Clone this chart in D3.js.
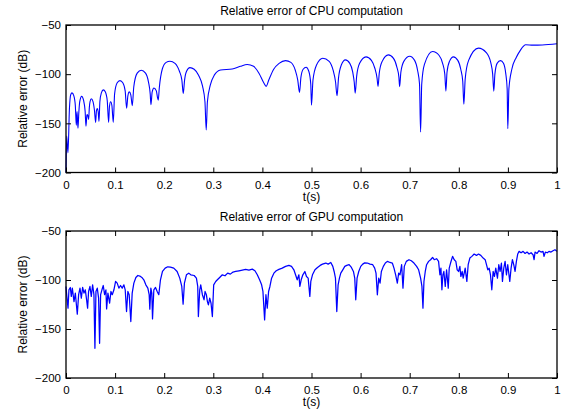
<!DOCTYPE html>
<html>
<head>
<meta charset="utf-8">
<script src="https://cdn.jsdelivr.net/npm/d3@7"></script>
<style>
body { margin: 0; background: #fff; }
text { font-family: "Liberation Sans", Arial, sans-serif; }
</style>
</head>
<body>
<div id="chart"></div>
<script>
// tick values and labels
var xTicks = [0, 0.1, 0.2, 0.3, 0.4, 0.5, 0.6, 0.7, 0.8, 0.9, 1];
var xTickLabels = ["0", "0.1", "0.2", "0.3", "0.4", "0.5", "0.6", "0.7", "0.8", "0.9", "1"];
var yTicks = [-200, -150, -100, -50];
var yTickLabels = ["\u2212200", "\u2212150", "\u2212100", "\u221250"];

var titles = ["Relative error of CPU computation", "Relative error of GPU computation"];
var xLabel = "t(s)";
var yLabel = "Relative error (dB)";

// CPU error curve [t, dB]
var cpuError = [
[0, -200], [0.0014, -163], [0.004, -180], [0.007, -135], [0.0095, -121], [0.0122, -119], [0.016, -122],
[0.019, -132], [0.021, -152], [0.0225, -138], [0.0244, -155], [0.026, -140], [0.028, -128], [0.0319, -122.6],
[0.036, -127], [0.039, -138], [0.0407, -153], [0.0425, -142], [0.0434, -141], [0.0448, -143], [0.0461, -146],
[0.0475, -134], [0.049, -128], [0.0516, -125], [0.055, -128], [0.058, -137], [0.0604, -149], [0.062, -137],
[0.0638, -135], [0.0655, -138], [0.0672, -148], [0.069, -128], [0.072, -119], [0.076, -116], [0.080, -118],
[0.084, -127], [0.0868, -149], [0.0885, -133], [0.0909, -128], [0.0935, -132], [0.0963, -149], [0.099, -120],
[0.104, -109], [0.1099, -106.6], [0.116, -109], [0.1205, -117], [0.1235, -134.6], [0.126, -122], [0.1289, -118],
[0.132, -121], [0.135, -132], [0.138, -113], [0.145, -99], [0.1533, -96], [0.162, -99], [0.168, -108],
[0.1715, -120], [0.173, -131], [0.1755, -118], [0.1791, -114], [0.184, -117], [0.1865, -124], [0.1879, -126.4],
[0.190, -114], [0.196, -95], [0.204, -88], [0.2117, -86.8], [0.222, -89], [0.231, -97], [0.236, -106],
[0.2388, -119.6], [0.2415, -106], [0.2455, -97], [0.2524, -93.3], [0.261, -95], [0.270, -101], [0.278, -112],
[0.283, -128], [0.2856, -156.7], [0.288, -128], [0.294, -111], [0.302, -101], [0.3148, -95.7], [0.3385, -94.7],
[0.355, -92], [0.3691, -90.2], [0.382, -92], [0.393, -99], [0.403, -109], [0.4077, -112.4], [0.413, -106],
[0.423, -95], [0.434, -89], [0.4471, -86.2], [0.458, -88], [0.467, -96], [0.472, -106], [0.4756, -118.5],
[0.4785, -103], [0.483, -95], [0.4891, -93], [0.4945, -97], [0.4985, -110], [0.5, -131.5], [0.503, -106],
[0.51, -91], [0.523, -83.8], [0.536, -87], [0.544, -96], [0.549, -108], [0.552, -122], [0.555, -104],
[0.5605, -91], [0.569, -85.5], [0.578, -89], [0.584, -98], [0.587, -108], [0.589, -119.3], [0.592, -102],
[0.598, -89], [0.611, -82.4], [0.622, -86], [0.629, -94], [0.6335, -104], [0.6355, -112.4], [0.638, -99],
[0.644, -87], [0.6565, -80.4], [0.667, -84], [0.674, -93], [0.678, -103], [0.6795, -112.7], [0.682, -98],
[0.688, -87], [0.700, -81.8], [0.710, -86], [0.716, -96], [0.720, -110], [0.7222, -158.8], [0.7245, -110],
[0.73, -90], [0.7466, -77], [0.760, -81], [0.767, -89], [0.7715, -100], [0.7737, -117.2], [0.776, -98],
[0.781, -87], [0.789, -82.4], [0.798, -86], [0.804, -95], [0.808, -107], [0.8103, -130.5], [0.813, -105],
[0.82, -86], [0.8401, -73.5], [0.856, -78], [0.865, -88], [0.869, -100], [0.8713, -117.2], [0.8735, -100],
[0.878, -89], [0.885, -86.2], [0.891, -89], [0.8955, -99], [0.8985, -115], [0.8998, -155.4], [0.902, -115],
[0.908, -95], [0.917, -83], [0.925, -76], [0.9363, -70.1], [0.9512, -70.5], [0.97, -70.3], [1.0, -69.1]
];

// GPU error curve [t, dB]
var gpuError = [
[0, -106.6], [0.0014, -115], [0.0041, -128.8], [0.006, -110], [0.0088, -107.6], [0.0108, -116.8], [0.0129, -108.3],
[0.0163, -122], [0.019, -113.4], [0.023, -134.9], [0.0257, -115], [0.0285, -108.3], [0.0312, -118.5], [0.0339, -107.6],
[0.0366, -113.4], [0.0393, -110], [0.042, -120.2], [0.044, -128.8], [0.046, -111.7], [0.0488, -106.6], [0.0515, -116.8],
[0.0542, -104.9], [0.0569, -115], [0.0589, -169.7], [0.061, -111.7], [0.0637, -108.3], [0.0664, -118.5], [0.0684, -164.6],
[0.0705, -115], [0.0732, -110], [0.0759, -105.6], [0.0786, -115], [0.0813, -110], [0.0827, -129.5], [0.0854, -113.4],
[0.0888, -123.7], [0.0915, -111.7], [0.0942, -115], [0.0976, -110], [0.101, -101.5], [0.1043, -103.2], [0.1077, -108.3],
[0.1111, -105.6], [0.1145, -108.3], [0.1179, -104.9], [0.1206, -110], [0.1233, -132.2], [0.126, -111.7], [0.1287, -115],
[0.132, -142.4], [0.1348, -113.4], [0.1382, -103.2], [0.1423, -97.4], [0.1463, -95.4], [0.1504, -96], [0.1545, -97.4],
[0.1585, -99.8], [0.1626, -104.9], [0.1667, -108.3], [0.1694, -115], [0.1707, -129.8], [0.1728, -108.3], [0.1748, -113.4],
[0.1762, -139.7], [0.1789, -110], [0.1823, -107.6], [0.1857, -111.7], [0.189, -115], [0.1924, -99.8], [0.1965, -91.3],
[0.202, -87.9], [0.2073, -86.5], [0.2127, -86.8], [0.2195, -87.9], [0.2263, -91.3], [0.2317, -98.1], [0.2358, -106.6],
[0.2385, -124.7], [0.2412, -103.2], [0.2453, -94.7], [0.25, -93], [0.2541, -94.7], [0.261, -95.4], [0.2656, -98.1],
[0.2683, -106.6], [0.2696, -137.3], [0.2724, -110], [0.2744, -104.9], [0.2778, -115], [0.2812, -120.2], [0.2832, -111.7],
[0.2859, -115], [0.288, -122], [0.29, -125.4], [0.2927, -118.5], [0.2954, -123.7], [0.2981, -137.3], [0.3008, -104.9],
[0.3049, -101.5], [0.3083, -99.8], [0.313, -97.4], [0.3184, -94.7], [0.3238, -95.7], [0.3293, -93], [0.3347, -94],
[0.3401, -91.9], [0.3455, -91.3], [0.3523, -90.6], [0.3591, -89.9], [0.3659, -89.2], [0.3726, -89.9], [0.3794, -88.9],
[0.3848, -90.6], [0.3896, -94.7], [0.3943, -99.8], [0.3984, -104.9], [0.4011, -111.7], [0.4045, -140.7], [0.4072, -115],
[0.4099, -128.8], [0.4126, -111.7], [0.4153, -106.6], [0.4187, -98.1], [0.4234, -93], [0.4282, -90.6], [0.4336, -89.2],
[0.4404, -87.9], [0.4472, -86.1], [0.454, -85.1], [0.4593, -86.1], [0.4641, -89.6], [0.4675, -94.7], [0.4709, -99.8],
[0.4743, -94.7], [0.4763, -106.6], [0.479, -99.8], [0.4824, -94.7], [0.4865, -91.3], [0.4898, -96.4], [0.4932, -98.1],
[0.4966, -116.8], [0.4986, -101.5], [0.502, -94.7], [0.5071, -89.6], [0.5122, -87.2], [0.5176, -85.1], [0.5224, -83.8],
[0.5291, -82.7], [0.5339, -83.8], [0.5393, -82.1], [0.5434, -86.1], [0.5461, -91.3], [0.5488, -98.1], [0.5515, -132.2],
[0.5542, -104.9], [0.5569, -98.1], [0.5596, -93], [0.5637, -89.6], [0.5678, -86.1], [0.5718, -85.1], [0.5766, -84.4],
[0.5813, -87.2], [0.5854, -91.3], [0.5881, -98.1], [0.5901, -120.2], [0.5928, -98.1], [0.5962, -91.3], [0.6003, -86.1],
[0.6043, -83.8], [0.6084, -82.5], [0.6138, -82.7], [0.6192, -83.8], [0.6247, -84.4], [0.6287, -87.9], [0.6314, -93],
[0.6341, -115.1], [0.6369, -98.1], [0.6396, -103.2], [0.6423, -91.3], [0.6463, -86.1], [0.6504, -82.7], [0.6545, -81],
[0.6599, -82.1], [0.6646, -82.7], [0.668, -87.9], [0.6714, -94.7], [0.6748, -103.2], [0.6775, -93], [0.6802, -94.7],
[0.6836, -84.4], [0.6863, -108.3], [0.689, -86.1], [0.6931, -81], [0.6985, -79.3], [0.7033, -80.4], [0.7087, -82.7],
[0.7141, -86.1], [0.7182, -89.6], [0.7222, -98.1], [0.7249, -106.6], [0.727, -128.8], [0.729, -101.5], [0.7317, -91.3],
[0.7344, -84.4], [0.7385, -81], [0.7425, -79.3], [0.7466, -77], [0.75, -79.3], [0.7547, -78.3], [0.7588, -81],
[0.7615, -94.7], [0.7636, -87.9], [0.7656, -110], [0.7676, -94.7], [0.7696, -91.3], [0.7724, -106.6], [0.7751, -89.6],
[0.7785, -108.3], [0.7805, -87.9], [0.7832, -82.7], [0.7873, -75.9], [0.7907, -79.3], [0.794, -81], [0.7967, -89.6],
[0.7995, -91.3], [0.8022, -86.1], [0.8042, -96.4], [0.8069, -91.3], [0.8089, -98.1], [0.811, -93], [0.813, -87.9],
[0.8164, -101.5], [0.8191, -84.4], [0.8225, -77.6], [0.8266, -75.9], [0.8313, -73.5], [0.836, -74.9], [0.8401, -73.5],
[0.8448, -74.9], [0.8496, -77.6], [0.8537, -79.3], [0.8564, -84.4], [0.8591, -89.6], [0.8618, -87.9], [0.8645, -94.7],
[0.8672, -110], [0.8699, -91.3], [0.8726, -96.4], [0.8753, -87.9], [0.8787, -98.1], [0.8814, -84.4], [0.8841, -91.3],
[0.8868, -82.7], [0.8889, -101.5], [0.8916, -87.9], [0.8943, -81], [0.897, -94.7], [0.8997, -84.4], [0.9038, -101.5],
[0.9065, -87.9], [0.9092, -79.3], [0.9119, -84.4], [0.9146, -91.3], [0.9173, -81], [0.92, -73.5], [0.9228, -70.8],
[0.9268, -72.2], [0.9309, -70.8], [0.935, -72.9], [0.939, -71.5], [0.9431, -73.5], [0.9472, -72.2], [0.9512, -74.2],
[0.9533, -79.3], [0.9553, -71.5], [0.9594, -72.9], [0.9634, -70.1], [0.9675, -71.5], [0.9715, -70.8], [0.9736, -75.9],
[0.9763, -71.5], [0.9803, -72.2], [0.9837, -70.8], [0.9878, -71.5], [0.9919, -70.1], [0.9959, -69.1], [1.0, -70.8]
];

//Width and height
var w = 562;
var h = 412;
var left = 66, right = 557;
var panels = [
  { top: 25, bottom: 172.5, data: cpuError, curve: d3.curveMonotoneX, sw: 1.1 },
  { top: 231, bottom: 378, data: gpuError, curve: d3.curveLinear, sw: 1.25 }
];

var svg = d3.select("#chart")
  .append("svg")
  .attr("width", w)
  .attr("height", h);

var xScale = d3.scaleLinear()
  .domain([0, 1])
  .range([left, right]);

panels.forEach(function(p, i) {
  var yScale = d3.scaleLinear()
    .domain([-200, -50])
    .range([p.bottom, p.top]);

  var g = svg.append("g");

  // data line
  var line = d3.line()
    .x(function(d) { return xScale(d[0]); })
    .y(function(d) { return yScale(d[1]); })
    .curve(p.curve);

  g.append("path")
    .datum(p.data)
    .attr("fill", "none")
    .attr("stroke", "#0000ff")
    .attr("stroke-width", p.sw)
    .attr("stroke-linejoin", "round")
    .attr("d", line);

  // inward ticks on all four sides (matlab box)
  var fmtX = function(d, k) { return xTickLabels[k]; };
  var fmtY = function(d, k) { return yTickLabels[k]; };

  var xBottom = g.append("g")
    .attr("transform", "translate(0," + p.bottom + ")")
    .call(d3.axisBottom(xScale).tickValues(xTicks).tickFormat(fmtX).tickSizeInner(-5).tickSizeOuter(0).tickPadding(8));
  var xTop = g.append("g")
    .attr("transform", "translate(0," + p.top + ")")
    .call(d3.axisTop(xScale).tickValues(xTicks).tickFormat("").tickSizeInner(-5).tickSizeOuter(0));
  var yLeft = g.append("g")
    .attr("transform", "translate(" + left + ",0)")
    .call(d3.axisLeft(yScale).tickValues(yTicks).tickFormat(fmtY).tickSizeInner(-5).tickSizeOuter(0).tickPadding(5));
  var yRight = g.append("g")
    .attr("transform", "translate(" + right + ",0)")
    .call(d3.axisRight(yScale).tickValues(yTicks).tickFormat("").tickSizeInner(-5).tickSizeOuter(0));

  [xBottom, xTop, yLeft, yRight].forEach(function(a) {
    a.select(".domain").remove();
    a.selectAll(".tick line").attr("stroke", "#000").attr("stroke-width", 1);
    a.selectAll("text").attr("font-size", "11.5px").attr("fill", "#000")
      .attr("font-family", "'Liberation Sans', Arial, sans-serif");
  });

  // box
  g.append("rect")
    .attr("x", left)
    .attr("y", p.top)
    .attr("width", right - left)
    .attr("height", p.bottom - p.top)
    .attr("fill", "none")
    .attr("stroke", "#000")
    .attr("stroke-width", 1.3);

  // title
  g.append("text")
    .attr("x", (left + right) / 2)
    .attr("y", p.top - 10)
    .attr("text-anchor", "middle")
    .attr("font-size", "12px")
    .text(titles[i]);

  // x label
  g.append("text")
    .attr("x", (left + right) / 2)
    .attr("y", p.bottom + 28)
    .attr("text-anchor", "middle")
    .attr("font-size", "12px")
    .text(xLabel);

  // y label
  g.append("text")
    .attr("transform", "translate(27," + ((p.top + p.bottom) / 2) + ") rotate(-90)")
    .attr("text-anchor", "middle")
    .attr("font-size", "12px")
    .text(yLabel);
});
</script>
</body>
</html>
